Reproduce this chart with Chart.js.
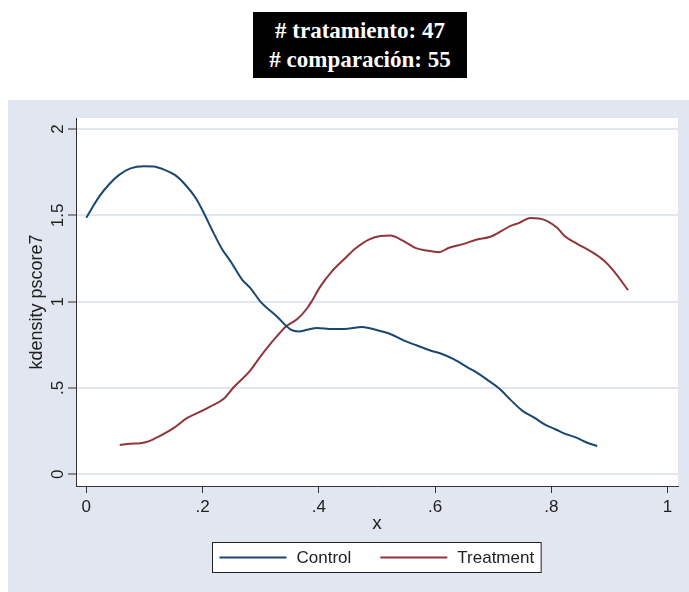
<!DOCTYPE html>
<html>
<head>
<meta charset="utf-8">
<script src="https://cdn.jsdelivr.net/npm/chart.js@4.4.0/dist/chart.umd.min.js"></script>
<style>
  html, body { margin: 0; padding: 0; background: #fff; }
  #wrap { position: relative; width: 689px; height: 592px; }
  #chart { position: absolute; left: 0; top: 0; }
  #caption {
    position: absolute; left: 253px; top: 12px; width: 214px; height: 66px;
    box-sizing: border-box; padding-top: 4px;
    background: #000; color: #fff; text-align: center;
    font: bold 23px/29px "Liberation Serif", "Times New Roman", serif;
  }
</style>
</head>
<body>
<div id="wrap">
  <canvas id="chart" width="689" height="592"></canvas>
  <div id="caption"></div>
</div>
<script>
const captionLines = ['# tratamiento: 47', '# comparación: 55'];

const seriesLabels = ['Control', 'Treatment'];

const controlX = [0, 0.013, 0.024, 0.039, 0.056, 0.076, 0.099, 0.116, 0.133, 0.153, 0.170, 0.188,
  0.202, 0.216, 0.234, 0.248, 0.268, 0.282, 0.300, 0.328, 0.351, 0.366, 0.380, 0.397, 0.423,
  0.443, 0.475, 0.495, 0.523, 0.549, 0.569, 0.592, 0.612, 0.632, 0.658, 0.672, 0.690, 0.710,
  0.730, 0.750, 0.770, 0.790, 0.807, 0.824, 0.842, 0.862, 0.879];
const controlY = [1.486, 1.560, 1.617, 1.679, 1.733, 1.772, 1.785, 1.783, 1.766, 1.733, 1.679, 1.602,
  1.515, 1.418, 1.302, 1.235, 1.128, 1.080, 0.999, 0.914, 0.840, 0.827, 0.837, 0.848, 0.842,
  0.842, 0.854, 0.840, 0.813, 0.771, 0.746, 0.717, 0.697, 0.667, 0.615, 0.589, 0.547, 0.498,
  0.431, 0.369, 0.330, 0.286, 0.261, 0.234, 0.214, 0.183, 0.164];

const treatX = [0.0575, 0.076, 0.093, 0.107, 0.1245, 0.150, 0.173, 0.196, 0.213, 0.2365, 0.2535,
  0.282, 0.2995, 0.328, 0.345, 0.363, 0.380, 0.388, 0.403, 0.423, 0.443, 0.463, 0.486, 0.506,
  0.523, 0.546, 0.566, 0.586, 0.6065, 0.624, 0.6495, 0.672, 0.695, 0.7155, 0.730, 0.744, 0.764,
  0.7785, 0.793, 0.810, 0.824, 0.8445, 0.870, 0.8905, 0.910, 0.932];
const treatY = [0.170, 0.177, 0.180, 0.191, 0.218, 0.267, 0.325, 0.363, 0.392, 0.437, 0.504,
  0.601, 0.682, 0.800, 0.860, 0.899, 0.962, 1.003, 1.090, 1.177, 1.244, 1.308, 1.360, 1.381,
  1.383, 1.351, 1.312, 1.296, 1.287, 1.312, 1.335, 1.360, 1.376, 1.412, 1.439, 1.455, 1.484,
  1.482, 1.467, 1.428, 1.377, 1.335, 1.287, 1.238, 1.167, 1.067];

const xTickValues = [0, 0.2, 0.4, 0.6, 0.8, 1];
const xTickLabels = ['0', '.2', '.4', '.6', '.8', '1'];
const yTickValues = [0, 0.5, 1, 1.5, 2];
const yTickLabels = ['0', '.5', '1', '1.5', '2'];

const xTitle = 'x';
const yTitle = 'kdensity pscore7';

const COLORS = ['#1a476f', '#90353b'];
const PANEL = '#e1e6f0';
const INK = '#222';
const FONT = '"Liberation Sans", Arial, sans-serif';

document.getElementById('caption').innerHTML = captionLines.join('<br>');

const toPoints = (xs, ys) => xs.map((x, i) => ({ x, y: ys[i] }));

const backdrop = {
  id: 'backdrop',
  beforeDraw(chart) {
    const { ctx, chartArea: a } = chart;
    ctx.save();
    ctx.fillStyle = '#fff';
    ctx.fillRect(0, 0, chart.width, chart.height);
    ctx.fillStyle = PANEL;
    ctx.fillRect(8, 100, chart.width - 8, chart.height - 100);
    ctx.fillStyle = '#fff';
    ctx.fillRect(a.left, a.top, a.right - a.left, a.bottom - a.top);
    ctx.restore();
  },
};

// stata draws the y tick labels turned on their side
const sideTicks = {
  id: 'sideTicks',
  afterDraw(chart) {
    const { ctx } = chart;
    const scale = chart.scales.y;
    ctx.save();
    ctx.font = `17px ${FONT}`;
    ctx.fillStyle = INK;
    ctx.textAlign = 'center';
    ctx.textBaseline = 'middle';
    yTickValues.forEach((v, i) => {
      ctx.save();
      ctx.translate(58, scale.getPixelForValue(v));
      ctx.rotate(-Math.PI / 2);
      ctx.fillText(yTickLabels[i], 0, 0);
      ctx.restore();
    });
    ctx.restore();
  },
};

const boxLegend = {
  id: 'boxLegend',
  afterDraw(chart) {
    const { ctx } = chart;
    const top = 542.5;
    const height = 30;
    const midY = top + height / 2;
    ctx.save();
    ctx.font = `17px ${FONT}`;
    const widths = chart.data.datasets.map((ds) => ctx.measureText(ds.label).width);
    const inner = widths.reduce((sum, w) => sum + 67 + 10 + w, 0) + 29 * (widths.length - 1);
    const left = Math.round(376 - (inner + 14) / 2) + 0.5;
    ctx.fillStyle = '#fff';
    ctx.fillRect(left, top, inner + 14, height);
    ctx.strokeStyle = INK;
    ctx.lineWidth = 1;
    ctx.strokeRect(left, top, inner + 14, height);
    let x = left + 7;
    chart.data.datasets.forEach((ds, i) => {
      ctx.strokeStyle = ds.borderColor;
      ctx.lineWidth = 2;
      ctx.beginPath();
      ctx.moveTo(x, midY);
      ctx.lineTo(x + 67, midY);
      ctx.stroke();
      ctx.fillStyle = INK;
      ctx.textAlign = 'left';
      ctx.textBaseline = 'middle';
      ctx.fillText(ds.label, x + 77, midY + 1);
      x += 77 + widths[i] + 29;
    });
    ctx.restore();
  },
};

new Chart(document.getElementById('chart').getContext('2d'), {
  type: 'line',
  data: {
    datasets: [
      { label: seriesLabels[0], data: toPoints(controlX, controlY), borderColor: COLORS[0] },
      { label: seriesLabels[1], data: toPoints(treatX, treatY), borderColor: COLORS[1] },
    ],
  },
  options: {
    responsive: false,
    animation: false,
    devicePixelRatio: 1,
    layout: { padding: { left: 0, top: 118, right: 11, bottom: 0 } },
    elements: {
      point: { radius: 0 },
      line: { borderWidth: 2, cubicInterpolationMode: 'monotone', fill: false },
    },
    scales: {
      x: {
        type: 'linear',
        min: -0.0177,
        max: 1.018,
        afterBuildTicks: (s) => { s.ticks = xTickValues.map((value) => ({ value })); },
        afterFit: (s) => { s.height = 106; },
        ticks: {
          callback: (value, index) => xTickLabels[index],
          font: { family: FONT, size: 17 },
          color: INK,
          padding: 4,
          maxRotation: 0,
          autoSkip: false,
        },
        grid: { drawOnChartArea: false, tickLength: 7, tickColor: '#333', tickWidth: 1 },
        border: { color: '#333', width: 1 },
        title: {
          display: true,
          text: xTitle,
          color: INK,
          font: { family: FONT, size: 19, lineHeight: 1 },
          padding: { top: 0, bottom: 59 },
        },
      },
      y: {
        type: 'linear',
        min: -0.0678,
        max: 2.064,
        afterBuildTicks: (s) => { s.ticks = yTickValues.map((value) => ({ value })); },
        afterFit: (s) => { s.width = 76; },
        ticks: { display: false },
        grid: { color: PANEL, lineWidth: 2, tickLength: 8, tickColor: '#333', tickWidth: 1 },
        border: { color: '#333', width: 1 },
        title: {
          display: true,
          text: yTitle,
          color: INK,
          font: { family: FONT, size: 18, lineHeight: 1 },
          padding: { top: 28, bottom: 0 },
        },
      },
    },
    plugins: {
      legend: { display: false },
      tooltip: { enabled: false },
    },
  },
  plugins: [backdrop, sideTicks, boxLegend],
});
</script>
</body>
</html>
